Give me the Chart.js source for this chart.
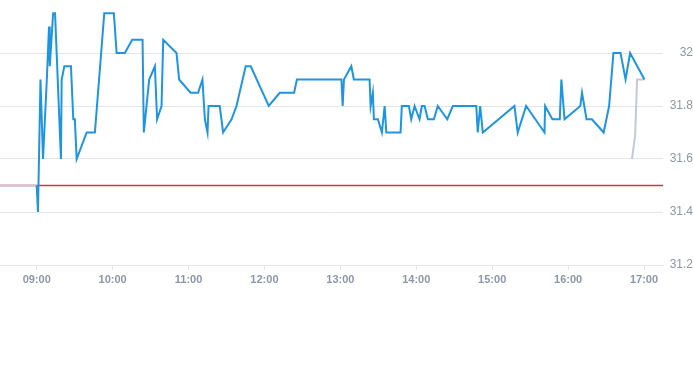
<!DOCTYPE html>
<html>
<head>
<meta charset="utf-8">
<script src="https://cdn.jsdelivr.net/npm/chart.js@4/dist/chart.umd.min.js"></script>
<style>
  body { margin: 0; background: #fff; }
  #wrap { width: 693px; height: 295px; position: relative; }
</style>
</head>
<body>
<div id="wrap"><canvas id="priceChart"></canvas></div>
<script>
// trading session (blue line)
const times = [
  "09:00:00", "09:01:00", "09:03:00", "09:05:00", "09:08:00", "09:09:45", "09:10:20", "09:13:00",
  "09:14:30", "09:19:10", "09:19:45", "09:21:50", "09:27:05", "09:28:55", "09:30:10", "09:31:35",
  "09:39:30", "09:46:00", "09:53:25", "10:01:00", "10:03:10", "10:09:40", "10:15:30", "10:23:40",
  "10:24:40", "10:28:55", "10:33:25", "10:35:10", "10:38:40", "10:40:00", "10:50:30", "10:52:35",
  "11:01:35", "11:07:35", "11:11:00", "11:12:55", "11:15:00", "11:15:50", "11:24:40", "11:27:20",
  "11:34:00", "11:37:55", "11:45:10", "11:49:10", "12:03:25", "12:12:05", "12:23:25", "12:25:40",
  "13:00:50", "13:01:50", "13:02:50", "13:08:40", "13:10:40", "13:23:05", "13:23:55", "13:25:40",
  "13:26:30", "13:29:40", "13:32:50", "13:35:00", "13:36:20", "13:47:35", "13:48:35", "13:54:10",
  "13:56:00", "13:58:40", "14:02:35", "14:04:25", "14:06:35", "14:09:10", "14:13:55", "14:17:00",
  "14:24:30", "14:28:55", "14:47:25", "14:48:35", "14:50:30", "14:52:35", "15:17:35", "15:20:10",
  "15:26:50", "15:41:20", "15:41:50", "15:47:35", "15:53:25", "15:54:40", "15:57:10", "16:09:40",
  "16:11:00", "16:14:35", "16:18:50", "16:28:05", "16:32:25", "16:35:50", "16:41:25", "16:45:25",
  "16:49:00", "17:00:20"
];
const prices = [
  31.5, 31.4, 31.9, 31.6, 31.9, 32.1, 31.95, 32.15,
  32.15, 31.6, 31.9, 31.95, 31.95, 31.75, 31.75, 31.6,
  31.7, 31.7, 32.15, 32.15, 32.0, 32.0, 32.05, 32.05,
  31.7, 31.9, 31.95, 31.75, 31.8, 32.05, 32.0, 31.9,
  31.85, 31.85, 31.9, 31.75, 31.7, 31.8, 31.8, 31.7,
  31.75, 31.8, 31.95, 31.95, 31.8, 31.85, 31.85, 31.9,
  31.9, 31.8, 31.9, 31.95, 31.9, 31.9, 31.8, 31.85,
  31.75, 31.75, 31.7, 31.8, 31.7, 31.7, 31.8, 31.8,
  31.75, 31.8, 31.75, 31.8, 31.8, 31.75, 31.75, 31.8,
  31.75, 31.8, 31.8, 31.7, 31.8, 31.7, 31.8, 31.7,
  31.8, 31.7, 31.8, 31.75, 31.75, 31.9, 31.75, 31.8,
  31.85, 31.75, 31.75, 31.7, 31.8, 32.0, 32.0, 31.9,
  32.0, 31.9
];

// pre-open and closing auction (gray)
const preTimes = ["08:30:00", "09:00:00"];
const prePrices = [31.5, 31.5];
const postTimes = ["16:50:30", "16:53:00", "16:54:30", "17:00:20"];
const postPrices = [31.6, 31.69, 31.9, 31.9];

const prevClose = 31.5;

const xTickLabels = ["09:00", "10:00", "11:00", "12:00", "13:00", "14:00", "15:00", "16:00", "17:00"];
const yTickValues = [31.2, 31.4, 31.6, 31.8, 32];

const xMin = "08:31";
const xMax = "17:15";
const yMin = 31.2;
const yMax = 32.2;

// "HH:MM(:SS)" -> minutes after midnight
function toMin(t) {
  const p = t.split(":").map(Number);
  return p[0] * 60 + p[1] + (p[2] || 0) / 60;
}
function toLabel(m) {
  const h = Math.floor(m / 60);
  const mm = Math.round(m % 60);
  return String(h).padStart(2, "0") + ":" + String(mm).padStart(2, "0");
}
function toPoints(ts, vs) {
  return ts.map((t, i) => ({ x: toMin(t), y: vs[i] }));
}

const tickColor = "#8d97a5";
const gridColor = "#e3e5e8";

new Chart(document.getElementById("priceChart"), {
  type: "line",
  data: {
    datasets: [
      {
        data: toPoints(times, prices),
        borderColor: "#1f95e0",
        borderWidth: 2,
        pointRadius: 0,
        tension: 0,
        order: 0,
      },
      {
        data: toPoints(preTimes, prePrices),
        borderColor: "#c3cad3",
        borderWidth: 2,
        pointRadius: 0,
        order: 1,
      },
      {
        data: toPoints(postTimes, postPrices),
        borderColor: "#c3cad3",
        borderWidth: 2,
        pointRadius: 0,
        order: 1,
      },
      {
        // previous close
        data: [{ x: toMin(xMin), y: prevClose }, { x: toMin(xMax), y: prevClose }],
        borderColor: "#e0332e",
        borderWidth: 1.5,
        pointRadius: 0,
        order: 2,
      },
    ],
  },
  options: {
    responsive: true,
    maintainAspectRatio: false,
    animation: false,
    layout: { padding: 0 },
    plugins: {
      legend: { display: false },
      tooltip: { enabled: false },
    },
    scales: {
      x: {
        type: "linear",
        min: toMin(xMin),
        max: toMin(xMax),
        afterBuildTicks: (scale) => {
          scale.ticks = xTickLabels.map((l) => ({ value: toMin(l) }));
        },
        afterFit: (scale) => {
          scale.height = 30;
          scale.paddingLeft = 0;
          scale.paddingRight = 0;
        },
        grid: { drawOnChartArea: false, tickLength: 5, color: gridColor },
        border: { color: gridColor },
        ticks: {
          color: tickColor,
          padding: 3,
          maxRotation: 0,
          font: { family: "Liberation Sans, Arial, sans-serif", size: 11, weight: "bold" },
          callback: (v) => toLabel(v),
        },
      },
      y: {
        position: "right",
        min: yMin,
        max: yMax,
        afterBuildTicks: (scale) => {
          scale.ticks = yTickValues.map((v) => ({ value: v }));
        },
        afterFit: (scale) => {
          scale.width = 30;
          scale.paddingTop = 0;
          scale.paddingBottom = 0;
        },
        grid: { color: gridColor, drawTicks: false },
        border: { display: false },
        ticks: {
          color: tickColor,
          crossAlign: "far",
          padding: 0,
          font: { family: "Liberation Sans, Arial, sans-serif", size: 12 },
          callback: (v) => String(v),
        },
      },
    },
  },
});
</script>
</body>
</html>
